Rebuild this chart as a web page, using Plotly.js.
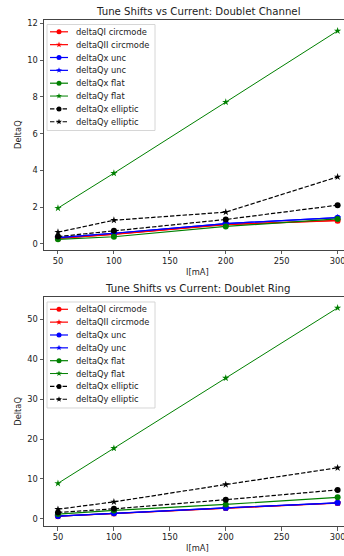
<!DOCTYPE html>
<html>
<head>
<meta charset="utf-8">
<script src="https://cdn.plot.ly/plotly-3.0.1.min.js"></script>
<style>
html, body { margin: 0; padding: 0; width: 344px; height: 556px; overflow: hidden; background: #fff; }
#chart { width: 344px; height: 556px; }
</style>
</head>
<body>
<div id="chart"></div>
<script>
// ---- data ----
const current = [50, 100, 200, 300];

const seriesNames = [
  "deltaQI circmode", "deltaQII circmode",
  "deltaQx unc", "deltaQy unc",
  "deltaQx flat", "deltaQy flat",
  "deltaQx elliptic", "deltaQy elliptic"
];

// Doublet Channel
const channelQIcirc   = [0.30, 0.52, 1.05, 1.26];
const channelQIIcirc  = [0.30, 0.53, 1.06, 1.28];
const channelQxUnc    = [0.34, 0.58, 1.11, 1.43];
const channelQyUnc    = [0.34, 0.58, 1.11, 1.43];
const channelQxFlat   = [0.25, 0.39, 0.95, 1.36];
const channelQyFlat   = [1.95, 3.85, 7.72, 11.6];
const channelQxEll    = [0.40, 0.71, 1.33, 2.11];
const channelQyEll    = [0.64, 1.29, 1.73, 3.65];

// Doublet Ring
const ringQIcirc   = [0.65, 1.35, 2.70, 3.95];
const ringQIIcirc  = [0.66, 1.36, 2.72, 3.97];
const ringQxUnc    = [0.70, 1.40, 2.75, 4.00];
const ringQyUnc    = [0.70, 1.40, 2.75, 4.00];
const ringQxFlat   = [1.20, 2.10, 3.60, 5.40];
const ringQyFlat   = [8.9, 17.7, 35.3, 52.9];
const ringQxEll    = [1.60, 2.50, 4.80, 7.25];
const ringQyEll    = [2.40, 4.25, 8.60, 12.8];

const titles = ["Tune Shifts vs Current: Doublet Channel", "Tune Shifts vs Current: Doublet Ring"];
const xLabel = "I[mA]";
const yLabel = "DeltaQ";

// ---- styles ----
const DASH = "4.4px,1.9px";
const styles = [
  {color: "#ff0000", symbol: "circle", dash: "solid", width: 1.2},
  {color: "#ff0000", symbol: "star",   dash: "solid", width: 1.2},
  {color: "#0000ff", symbol: "circle", dash: "solid", width: 1.2},
  {color: "#0000ff", symbol: "star",   dash: "solid", width: 1.2},
  {color: "#008000", symbol: "circle", dash: "solid", width: 1.2},
  {color: "#008000", symbol: "star",   dash: "solid", width: 1.0},
  {color: "#000000", symbol: "circle", dash: DASH, width: 1.2},
  {color: "#000000", symbol: "star",   dash: DASH, width: 1.2}
];

const channelData = [channelQIcirc, channelQIIcirc, channelQxUnc, channelQyUnc, channelQxFlat, channelQyFlat, channelQxEll, channelQyEll];
const ringData = [ringQIcirc, ringQIIcirc, ringQxUnc, ringQyUnc, ringQxFlat, ringQyFlat, ringQxEll, ringQyEll];

function makeTraces(dataSets, xa, ya) {
  return dataSets.map((vals, i) => {
    const s = styles[i];
    return {
      type: "scatter", mode: "lines+markers",
      x: current, y: vals, name: seriesNames[i],
      xaxis: xa, yaxis: ya, showlegend: false,
      line: {color: s.color, width: s.width, dash: s.dash},
      marker: {color: s.color, symbol: s.symbol, size: s.symbol === "star" ? 5.5 : 6}
    };
  });
}

const traces = makeTraces(channelData, "x", "y").concat(makeTraces(ringData, "x2", "y2"));

const FONT = "DejaVu Sans";
const TXT = "#222";
const tickFont = {family: FONT, size: 8.3, color: TXT};

// The original axes run past the right edge of the picture (cut at x = 305.7).
const X_RANGE = [37.5, 305.7];
const AXES_CENTER = (197.5 - 44) / 300; // centre of the full (uncropped) axes in domain units

function xAxis(anchor) {
  return {
    anchor: anchor, domain: [0, 1], range: X_RANGE,
    tick0: 50, dtick: 50, ticks: "outside", ticklen: 3.5, tickwidth: 0.8, tickcolor: "#333",
    ticklabeloverflow: "allow",
    showline: true, mirror: true, linecolor: "#444", linewidth: 1,
    showgrid: false, zeroline: false, tickfont: tickFont
  };
}
function yAxis(anchor, domain, range, dtick) {
  return {
    anchor: anchor, domain: domain, range: range, dtick: dtick, tick0: 0,
    ticks: "outside", ticklen: 3.5, tickwidth: 0.8, tickcolor: "#333",
    showline: true, mirror: false, linecolor: "#444", linewidth: 1,
    showgrid: false, zeroline: false, tickfont: tickFont
  };
}

// ---- matplotlib-style legend built from shapes + annotations ----
function starPath(cx, cy, R, r) {
  let d = "";
  for (let k = 0; k < 10; k++) {
    const a = Math.PI / 2 + k * Math.PI / 5;
    const rad = k % 2 === 0 ? R : r;
    const px = cx + rad * Math.cos(a), py = cy + rad * Math.sin(a);
    d += (k === 0 ? "M" : "L") + px.toFixed(2) + "," + py.toFixed(2);
  }
  return d + "Z";
}

const shapes = [];
const annotations = [];

function addPanel(xr, yr, title) {
  const xd = xr + " domain", yd = yr + " domain";
  const pix = {xref: xd, yref: yd, xsizemode: "pixel", ysizemode: "pixel", xanchor: 0, yanchor: 1, layer: "above"};
  shapes.push(Object.assign({type: "rect", x0: 3, x1: 111, y0: -4.5, y1: -110.5,
    fillcolor: "rgba(255,255,255,0.8)", line: {color: "#cccccc", width: 0.8}}, pix));
  seriesNames.forEach((name, i) => {
    const s = styles[i];
    const cy = -(11.8 + 12.85 * i);
    shapes.push(Object.assign({type: "line", x0: 6, x1: 24, y0: cy, y1: cy,
      line: {color: s.color, width: s.width, dash: s.dash}}, pix));
    if (s.symbol === "circle") {
      shapes.push(Object.assign({type: "circle", x0: 12.5, x1: 17.5, y0: cy - 2.5, y1: cy + 2.5,
        fillcolor: s.color, line: {width: 0}}, pix));
    } else {
      shapes.push(Object.assign({type: "path", path: starPath(15, cy, 3.1, 1.25),
        fillcolor: s.color, line: {width: 0}}, pix));
    }
    annotations.push({text: name, xref: xd, yref: yd, x: 0, y: 1, xanchor: "left", yanchor: "middle",
      xshift: 30, yshift: cy, showarrow: false, font: {family: FONT, size: 8.3, color: TXT}});
  });
  annotations.push({text: title, xref: xd, yref: yd, x: AXES_CENTER, y: 1, yanchor: "middle", yshift: 9,
    showarrow: false, font: {family: FONT, size: 10.2, color: TXT}});
  annotations.push({text: xLabel, xref: xd, yref: yd, x: AXES_CENTER, y: 0, yanchor: "middle", yshift: -22,
    showarrow: false, font: {family: FONT, size: 8.3, color: TXT}});
  annotations.push({text: yLabel, xref: xd, yref: yd, x: 0, y: 0.5, xanchor: "center", xshift: -26, textangle: -90,
    showarrow: false, font: {family: FONT, size: 8.3, color: TXT}});
}
addPanel("x", "y", titles[0]);
addPanel("x2", "y2", titles[1]);

const layout = {
  width: 344, height: 556,
  margin: {l: 44, r: 0, t: 20, b: 30, pad: 0},
  paper_bgcolor: "#fff", plot_bgcolor: "#fff",
  showlegend: false,
  xaxis: xAxis("y"),
  yaxis: yAxis("x", [0.5455, 1], [-0.33, 12.19], 2),
  xaxis2: xAxis("y2"),
  yaxis2: yAxis("x2", [0, 0.4516], [-1.8, 55.5], 10),
  shapes: shapes,
  annotations: annotations
};

Plotly.newPlot("chart", traces, layout, {staticPlot: true, displayModeBar: false});
</script>
</body>
</html>
